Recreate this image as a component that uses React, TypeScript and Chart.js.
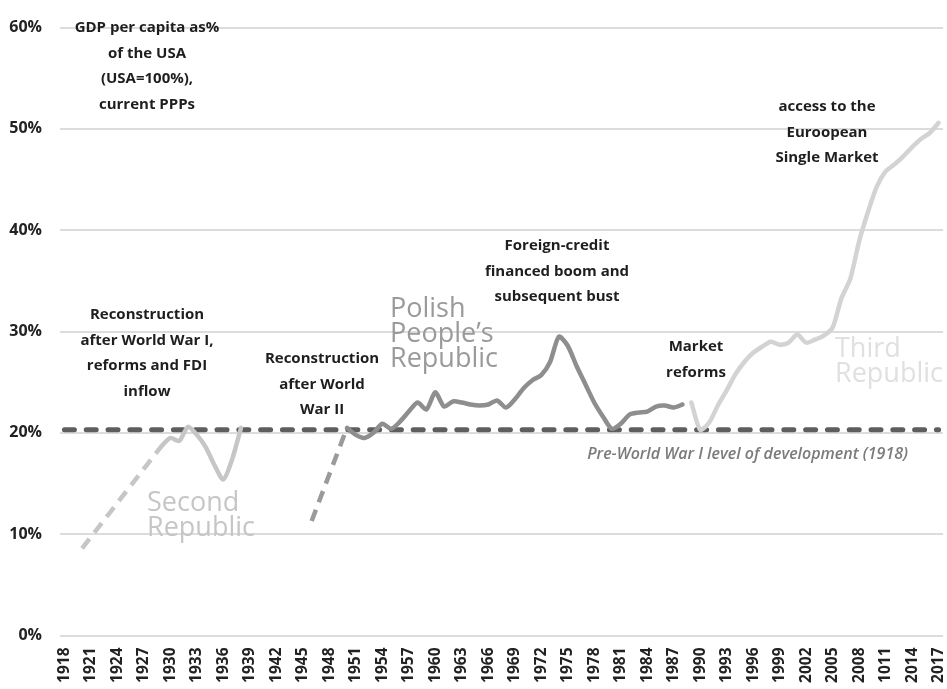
import React, { useEffect, useRef } from 'react';
import { Chart, registerables } from 'chart.js';

Chart.register(...registerables);

const firstYear = 1918;

const yearLabels = [
  '1918', '1919', '1920', '1921', '1922', '1923', '1924', '1925', '1926', '1927',
  '1928', '1929', '1930', '1931', '1932', '1933', '1934', '1935', '1936', '1937',
  '1938', '1939', '1940', '1941', '1942', '1943', '1944', '1945', '1946', '1947',
  '1948', '1949', '1950', '1951', '1952', '1953', '1954', '1955', '1956', '1957',
  '1958', '1959', '1960', '1961', '1962', '1963', '1964', '1965', '1966', '1967',
  '1968', '1969', '1970', '1971', '1972', '1973', '1974', '1975', '1976', '1977',
  '1978', '1979', '1980', '1981', '1982', '1983', '1984', '1985', '1986', '1987',
  '1988', '1989', '1990', '1991', '1992', '1993', '1994', '1995', '1996', '1997',
  '1998', '1999', '2000', '2001', '2002', '2003', '2004', '2005', '2006', '2007',
  '2008', '2009', '2010', '1011', '2012', '2013', '2014', '2015', '2016', '2017',
];

// Pre-World War I level of development (1918), % of USA
const preWWILevel = 20.3;

// Second Republic: dashed reconstruction trend, then observed values
const interwarDashYears = [1920, 1929];
const interwarDashValues = [8.6, 18.7];
const secondRepublicStart = 1929;
const secondRepublicValues = [18.7, 19.5, 19.2, 20.6, 19.8, 18.6, 16.8, 15.4, 17.4, 20.5];

// Post-WWII reconstruction (dashed)
const postwarDashYears = [1946, 1950];
const postwarDashValues = [11.3, 20.5];

// Polish People's Republic
const pprStart = 1950;
const pprValues = [
  20.5, 19.8, 19.5, 20.0, 20.9, 20.4, 21.1, 22.1, 23.0, 22.3,
  24.0, 22.6, 23.1, 23.0, 22.8, 22.7, 22.8, 23.2, 22.5, 23.3,
  24.4, 25.2, 25.7, 27.0, 29.5, 28.6, 26.6, 24.8, 23.0, 21.6,
  20.4, 20.9, 21.8, 22.0, 22.1, 22.6, 22.7, 22.5, 22.8,
];

// Third Republic
const thirdRepublicStart = 1989;
const thirdRepublicValues = [
  23.0, 20.3, 21.0, 22.7, 24.2, 25.8, 27.0, 27.9, 28.5, 29.0,
  28.7, 28.9, 29.7, 28.9, 29.2, 29.6, 30.4, 33.3, 35.2, 38.9,
  41.8, 44.3, 45.8, 46.5, 47.3, 48.2, 49.0, 49.6, 50.6,
];

const referenceYears = [1918, 2017];

const yTickValues = [0, 10, 20, 30, 40, 50, 60];

const annotationTexts = [
  { lines: ['GDP per capita as%', 'of the USA', '(USA=100%),', 'current PPPs'], x: 147, y: 28 },
  { lines: ['Reconstruction', 'after World War I,', 'reforms and FDI', 'inflow'], x: 147, y: 315 },
  { lines: ['Reconstruction', 'after World', 'War II'], x: 322, y: 359 },
  { lines: ['Foreign-credit', 'financed boom and', 'subsequent bust'], x: 557, y: 246 },
  { lines: ['Market', 'reforms'], x: 696, y: 347 },
  { lines: ['access to the', 'Euroopean', 'Single Market'], x: 827, y: 107 },
];

const periodLabels = [
  { lines: ['Second', 'Republic'], x: 147, y: 503, color: '#c6c6c6' },
  { lines: ['Polish', 'People\u2019s', 'Republic'], x: 390, y: 309, color: '#9a9a9a' },
  { lines: ['Third', 'Republic'], x: 835, y: 349, color: '#e0e0e0' },
];

const referenceNote = 'Pre-World War I level of development (1918)';

function placeRun(startYear: number, values: number[]) {
  const start = startYear - firstYear;
  return yearLabels.map((_, i) => {
    const k = i - start;
    return k >= 0 && k < values.length ? values[k] : null;
  });
}

function placeAt(years: number[], values: number[]) {
  return yearLabels.map((_, i) => {
    const k = years.indexOf(firstYear + i);
    return k >= 0 ? values[k] : null;
  });
}

const textPlugin = {
  id: 'textPlugin',
  afterDatasetsDraw(chart: any) {
    const ctx = chart.ctx;
    ctx.save();
    ctx.textBaseline = 'middle';
    ctx.font = '500 27px "Open Sans"';
    ctx.textAlign = 'left';
    for (const p of periodLabels) {
      ctx.fillStyle = p.color;
      p.lines.forEach((l, k) => ctx.fillText(l, p.x, p.y + k * 25));
    }
    ctx.font = '700 15px "Open Sans"';
    ctx.textAlign = 'center';
    ctx.fillStyle = '#1e1e1e';
    for (const a of annotationTexts) {
      a.lines.forEach((l, k) => ctx.fillText(l, a.x, a.y + k * 25.5));
    }
    ctx.font = 'italic 600 16px "Open Sans"';
    ctx.textAlign = 'right';
    ctx.fillStyle = '#7b7b7b';
    ctx.fillText(referenceNote, 908, 454);
    ctx.restore();
  },
};

export default function App() {
  const canvasRef = useRef<HTMLCanvasElement | null>(null);

  useEffect(() => {
    const canvas = canvasRef.current;
    if (!canvas) return;
    const lineBase = {
      pointRadius: 0,
      pointHoverRadius: 0,
      fill: false,
      borderJoinStyle: 'round' as const,
    };
    const chart = new Chart(canvas, {
      type: 'line',
      data: {
        labels: yearLabels,
        datasets: [
          {
            ...lineBase,
            label: 'Third Republic',
            data: placeRun(thirdRepublicStart, thirdRepublicValues),
            borderColor: '#d3d3d3',
            borderWidth: 4.5,
            tension: 0.25,
            borderCapStyle: 'round',
          },
          {
            ...lineBase,
            label: "Polish People's Republic",
            data: placeRun(pprStart, pprValues),
            borderColor: '#8e8e8e',
            borderWidth: 4.5,
            tension: 0.25,
            borderCapStyle: 'round',
          },
          {
            ...lineBase,
            label: 'Post-war reconstruction',
            data: placeAt(postwarDashYears, postwarDashValues),
            borderColor: '#9a9a9a',
            borderWidth: 4.5,
            borderDash: [12, 8],
            spanGaps: true,
          },
          {
            ...lineBase,
            label: 'Second Republic',
            data: placeRun(secondRepublicStart, secondRepublicValues),
            borderColor: '#c6c6c6',
            borderWidth: 4.5,
            tension: 0.25,
            borderCapStyle: 'round',
          },
          {
            ...lineBase,
            label: 'Interwar reconstruction',
            data: placeAt(interwarDashYears, interwarDashValues),
            borderColor: '#c6c6c6',
            borderWidth: 4.5,
            borderDash: [12, 8],
            spanGaps: true,
          },
          {
            ...lineBase,
            label: 'Pre-WWI level',
            data: placeAt(referenceYears, [preWWILevel, preWWILevel]),
            borderColor: '#5e5e5e',
            borderWidth: 5,
            borderDash: [10, 11.8],
            borderCapStyle: 'round',
            spanGaps: true,
          },
        ],
      },
      options: {
        responsive: false,
        animation: false,
        events: [],
        layout: {
          autoPadding: false,
          padding: { left: 0, right: 4, top: 14.5, bottom: 0 },
        },
        plugins: {
          legend: { display: false },
          tooltip: { enabled: false },
        },
        scales: {
          x: {
            type: 'category',
            offset: true,
            grid: { display: false, drawTicks: false },
            border: { display: false },
            afterFit: (scale: any) => {
              scale.height = 53.5;
              scale.paddingLeft = 0;
              scale.paddingRight = 0;
            },
            ticks: {
              autoSkip: false,
              minRotation: 90,
              maxRotation: 90,
              padding: 12,
              color: '#222',
              font: { family: '"Open Sans"', size: 15.5, weight: '700' },
              callback: (_v: any, i: number) => (i % 3 === 0 ? yearLabels[i] : ''),
            },
          },
          y: {
            min: 0,
            max: 60,
            afterFit: (scale: any) => {
              scale.width = 60;
            },
            afterBuildTicks: (scale: any) => {
              scale.ticks = yTickValues.map((v) => ({ value: v }));
            },
            grid: { color: '#dcdcdc', lineWidth: 2, drawTicks: false },
            border: { display: false },
            ticks: {
              padding: 18,
              color: '#222',
              font: { family: '"Open Sans"', size: 16, weight: '700' },
              callback: (v: any) => `${v}%`,
            },
          },
        },
      },
      plugins: [textPlugin],
    });
    return () => chart.destroy();
  }, []);

  return (
    <div style={{ position: 'fixed', left: 0, top: 0, width: 947, height: 689, background: '#fff' }}>
      <canvas ref={canvasRef} width={947} height={689} />
    </div>
  );
}
